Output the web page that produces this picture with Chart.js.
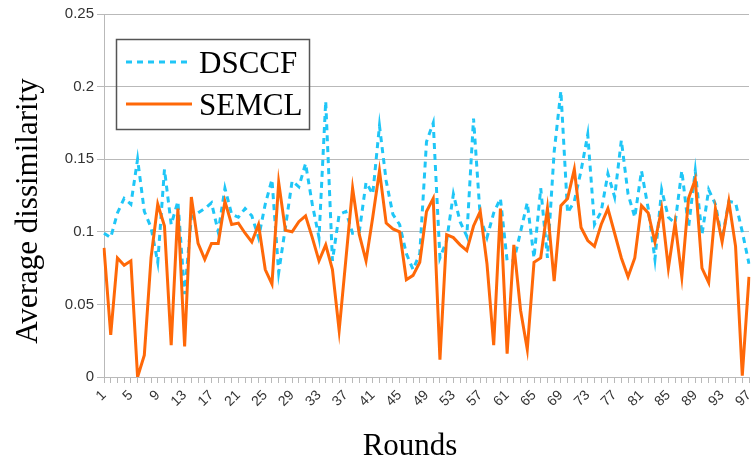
<!DOCTYPE html>
<html>
<head>
<meta charset="utf-8">
<script src="https://cdn.jsdelivr.net/npm/chart.js@4"></script>
<style>
  html, body { margin: 0; padding: 0; background: #ffffff; }
  #c { display: block; }
</style>
</head>
<body>
<canvas id="c" width="751" height="466"></canvas>
<script>
// ---- data ----
const rounds = [1,2,3,4,5,6,7,8,9,10,11,12,13,14,15,16,17,18,19,20,
  21,22,23,24,25,26,27,28,29,30,31,32,33,34,35,36,37,38,39,40,
  41,42,43,44,45,46,47,48,49,50,51,52,53,54,55,56,57,58,59,60,
  61,62,63,64,65,66,67,68,69,70,71,72,73,74,75,76,77,78,79,80,
  81,82,83,84,85,86,87,88,89,90,91,92,93,94,95,96,97];

const dsccf = [0.099,0.096,0.113,0.123,0.119,0.150,0.114,0.103,0.079,0.143,
  0.105,0.121,0.057,0.110,0.113,0.116,0.120,0.100,0.130,0.112,
  0.110,0.116,0.111,0.096,0.119,0.136,0.072,0.103,0.135,0.131,
  0.147,0.119,0.096,0.190,0.080,0.112,0.114,0.099,0.100,0.134,
  0.126,0.173,0.135,0.112,0.105,0.085,0.074,0.085,0.162,0.175,
  0.082,0.094,0.126,0.107,0.097,0.178,0.110,0.096,0.113,0.123,
  0.080,0.080,0.100,0.120,0.082,0.130,0.082,0.155,0.197,0.113,
  0.121,0.142,0.167,0.105,0.114,0.140,0.124,0.163,0.126,0.110,
  0.142,0.116,0.081,0.129,0.110,0.106,0.142,0.103,0.142,0.098,
  0.129,0.119,0.095,0.121,0.120,0.100,0.078];

const semcl = [0.089,0.029,0.082,0.077,0.080,0.000,0.015,0.082,0.119,0.104,
  0.022,0.116,0.021,0.124,0.092,0.081,0.092,0.092,0.121,0.105,
  0.106,0.099,0.093,0.105,0.074,0.064,0.134,0.101,0.100,0.107,
  0.111,0.096,0.080,0.091,0.074,0.032,0.081,0.130,0.098,0.080,
  0.110,0.142,0.106,0.102,0.100,0.067,0.070,0.079,0.114,0.123,
  0.012,0.098,0.096,0.091,0.087,0.104,0.114,0.078,0.022,0.116,
  0.016,0.091,0.046,0.019,0.079,0.082,0.116,0.066,0.118,0.123,
  0.143,0.103,0.094,0.090,0.105,0.116,0.099,0.082,0.069,0.082,
  0.118,0.113,0.093,0.116,0.075,0.106,0.069,0.123,0.136,0.075,
  0.065,0.116,0.093,0.121,0.090,0.001,0.069];

const xTickLabels = ['1','5','9','13','17','21','25','29','33','37','41','45','49',
  '53','57','61','65','69','73','77','81','85','89','93','97'];
const yTickValues = [0, 0.05, 0.1, 0.15, 0.2, 0.25];

const seriesNames = ['DSCCF', 'SEMCL'];
const xTitle = 'Rounds';
const yTitle = 'Average dissimilarity';

// ---- styles ----
const BLUE = '#1fc6f7';
const ORANGE = '#ff6808';
const GRID = '#b9b9b9';
const SERIF = '"Liberation Serif", "Times New Roman", serif';
const SANS = '"Liberation Sans", Arial, sans-serif';

const overlay = {
  id: 'overlay',
  afterDraw(chart) {
    const ctx = chart.ctx;
    ctx.save();
    // y axis title
    ctx.fillStyle = '#000';
    ctx.font = '31px ' + SERIF;
    ctx.textAlign = 'center';
    ctx.textBaseline = 'alphabetic';
    ctx.save();
    ctx.translate(37, 211);
    ctx.rotate(-Math.PI / 2);
    ctx.fillText(yTitle, 0, 0);
    ctx.restore();
    // x axis title
    ctx.fillText(xTitle, 410, 455);

    // legend box (transparent)
    ctx.strokeStyle = '#555555';
    ctx.lineWidth = 1.5;
    ctx.strokeRect(116.5, 39.5, 193, 90);
    // legend entries
    const ds = chart.data.datasets;
    const rows = [62, 104];
    ds.forEach((d, i) => {
      ctx.beginPath();
      ctx.setLineDash(d.borderDash || []);
      ctx.strokeStyle = d.borderColor;
      ctx.lineWidth = d.borderWidth;
      ctx.moveTo(126, rows[i]);
      ctx.lineTo(192, rows[i]);
      ctx.stroke();
      ctx.setLineDash([]);
      ctx.fillStyle = '#000';
      ctx.textAlign = 'left';
      ctx.textBaseline = 'alphabetic';
      ctx.fillText(d.label, 199, rows[i] + 11);
    });
    ctx.restore();
  }
};

new Chart(document.getElementById('c'), {
  type: 'line',
  data: {
    labels: rounds.map(String),
    datasets: [
      {
        label: seriesNames[0],
        data: dsccf,
        borderColor: BLUE,
        backgroundColor: BLUE,
        borderWidth: 3,
        borderDash: [6, 5],
        pointRadius: 0,
        tension: 0,
        fill: false,
        order: 2
      },
      {
        label: seriesNames[1],
        data: semcl,
        borderColor: ORANGE,
        backgroundColor: ORANGE,
        borderWidth: 3,
        pointRadius: 0,
        tension: 0,
        fill: false,
        order: 1
      }
    ]
  },
  options: {
    responsive: false,
    animation: false,
    devicePixelRatio: 1,
    layout: { padding: { left: 0, right: 2, top: 14, bottom: 0 } },
    plugins: {
      legend: { display: false },
      tooltip: { enabled: false },
      title: { display: false }
    },
    scales: {
      x: {
        type: 'category',
        offset: false,
        grid: {
          drawOnChartArea: false,
          drawTicks: true,
          tickLength: 6,
          color: GRID
        },
        border: { display: true, color: GRID, width: 1 },
        ticks: {
          autoSkip: false,
          maxRotation: 45,
          minRotation: 45,
          padding: 4,
          color: '#333333',
          font: { family: SANS, size: 14 },
          callback: function (value, index) {
            const lab = this.getLabelForValue(value);
            return xTickLabels.includes(lab) ? lab : '';
          }
        },
        afterFit(scale) {
          scale.height = 89;
          scale.paddingLeft = 0;
          scale.paddingRight = 0;
        }
      },
      y: {
        min: 0,
        max: 0.25,
        grid: {
          color: GRID,
          lineWidth: 1,
          tickLength: 7,
          drawTicks: true
        },
        border: { display: true, color: GRID, width: 1 },
        afterBuildTicks(scale) {
          scale.ticks = yTickValues.map(v => ({ value: v }));
        },
        ticks: {
          padding: 3,
          color: '#333333',
          font: { family: SANS, size: 15 },
          callback: v => String(+Number(v).toFixed(2))
        },
        afterFit(scale) {
          scale.width = 104;
          scale.paddingTop = 0;
          scale.paddingBottom = 0;
        }
      }
    }
  },
  plugins: [overlay]
});
</script>
</body>
</html>
